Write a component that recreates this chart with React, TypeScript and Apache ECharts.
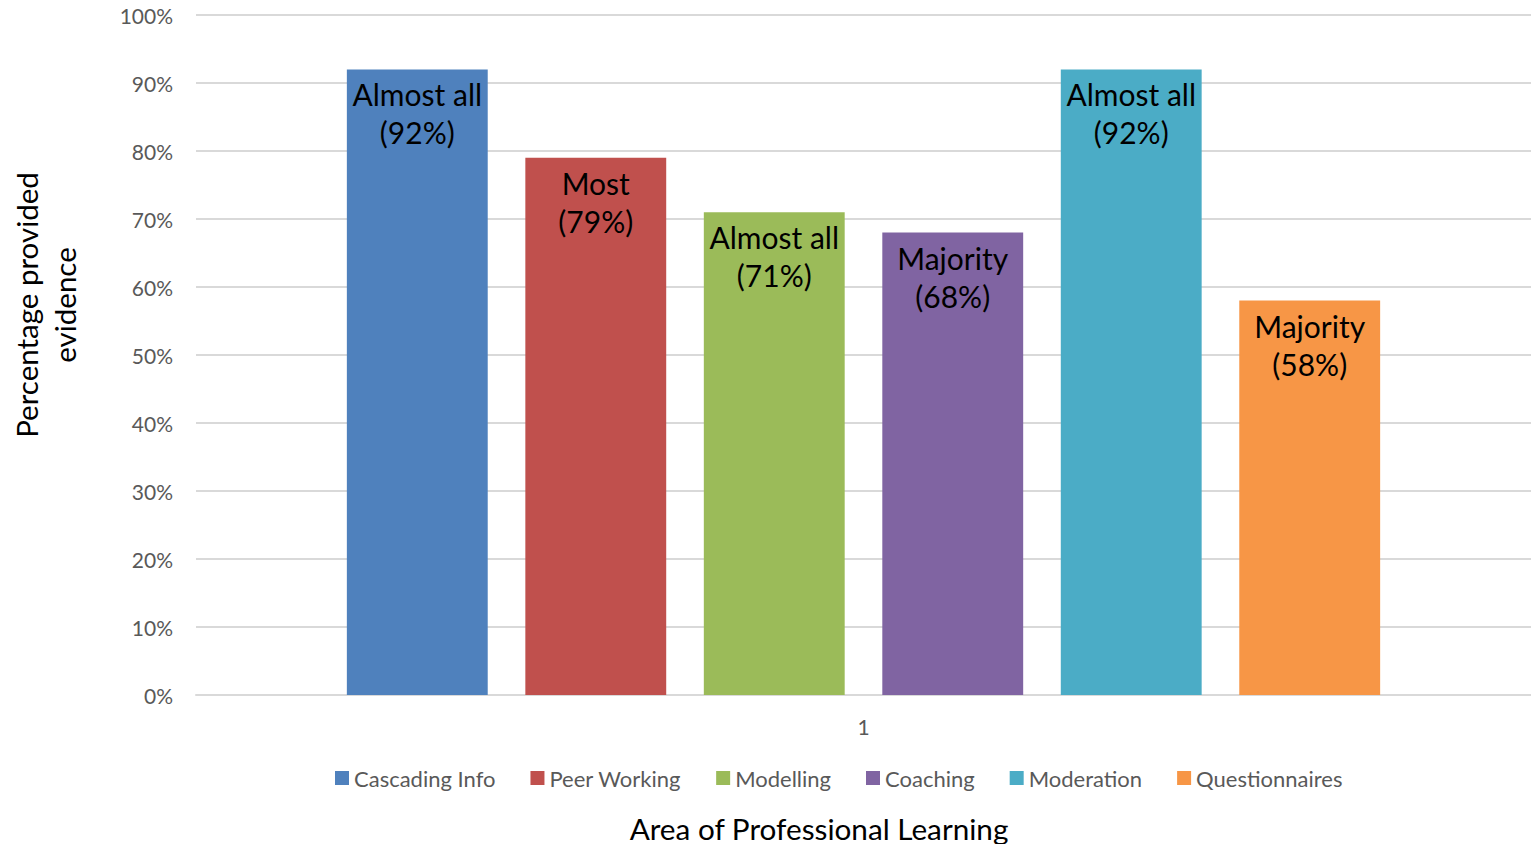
import React, { useEffect, useRef } from "react";
import * as echarts from "echarts";

const categories = ["1"];
const seriesNames = ["Cascading Info", "Peer Working", "Modelling", "Coaching", "Moderation", "Questionnaires"];
const seriesValues = [92, 79, 71, 68, 92, 58];
const seriesTerms = ["Almost all", "Most", "Almost all", "Majority", "Almost all", "Majority"];
const seriesColors = ["#4F81BD", "#C0504D", "#9BBB59", "#8064A2", "#4BACC6", "#F79646"];
const yTicks = [0, 10, 20, 30, 40, 50, 60, 70, 80, 90, 100];

const FONT = "Lato, 'Open Sans', sans-serif";

export default function App() {
  const ref = useRef<HTMLDivElement>(null);

  useEffect(() => {
    if (!ref.current) return;
    const chart = echarts.init(ref.current, undefined, { renderer: "svg" });

    const series = seriesNames.map((name, i) => ({
      name,
      type: "bar",
      data: [seriesValues[i]],
      barGap: "26.7%",
      barCategoryGap: "22.6%",
      itemStyle: { color: seriesColors[i] },
      label: {
        show: true,
        position: "insideTop",
        distance: 6,
        formatter: (p: any) => `${seriesTerms[i]}\n(${p.value}%)`,
        color: "#000000",
        fontFamily: FONT,
        fontSize: 30,
        lineHeight: 38,
      },
    }));

    chart.setOption({
      animation: false,
      textStyle: { fontFamily: FONT },
      grid: { left: 196, right: 0, top: 15, bottom: 149 },
      legend: {
        data: seriesNames,
        bottom: 50,
        left: 330,
        itemWidth: 14,
        itemHeight: 14,
        itemGap: 35,
        icon: "rect",
        textStyle: { color: "#595959", fontSize: 22, fontFamily: FONT },
      },
      xAxis: {
        type: "category",
        data: categories,
        axisLine: { lineStyle: { color: "#D9D9D9", width: 2 } },
        axisTick: { show: false },
        axisLabel: { color: "#595959", fontSize: 21, fontFamily: FONT, margin: 21 },
      },
      yAxis: {
        type: "value",
        min: 0,
        max: 100,
        interval: 10,
        axisLine: { show: false },
        axisTick: { show: false },
        splitLine: { lineStyle: { color: "#D9D9D9", width: 2 } },
        axisLabel: {
          color: "#595959",
          fontSize: 21,
          fontFamily: FONT,
          margin: 23,
          formatter: (v: number) => (yTicks.includes(v) ? `${v}%` : ""),
        },
      },
      graphic: [
        {
          type: "text",
          x: 45,
          y: 305,
          rotation: Math.PI / 2,
          style: {
            text: "Percentage provided\nevidence",
            fill: "#000000",
            fontSize: 29.5,
            lineHeight: 38,
            fontFamily: FONT,
            align: "center",
            verticalAlign: "middle",
          },
        },
        {
          type: "text",
          x: 819,
          y: 828,
          style: {
            text: "Area of Professional Learning",
            fill: "#000000",
            fontSize: 29.7,
            fontFamily: FONT,
            align: "center",
            verticalAlign: "middle",
          },
        },
      ],
      series,
    });

    return () => chart.dispose();
  }, []);

  return <div ref={ref} style={{ width: 1531, height: 844, position: "absolute", left: 0, top: 0 }} />;
}
